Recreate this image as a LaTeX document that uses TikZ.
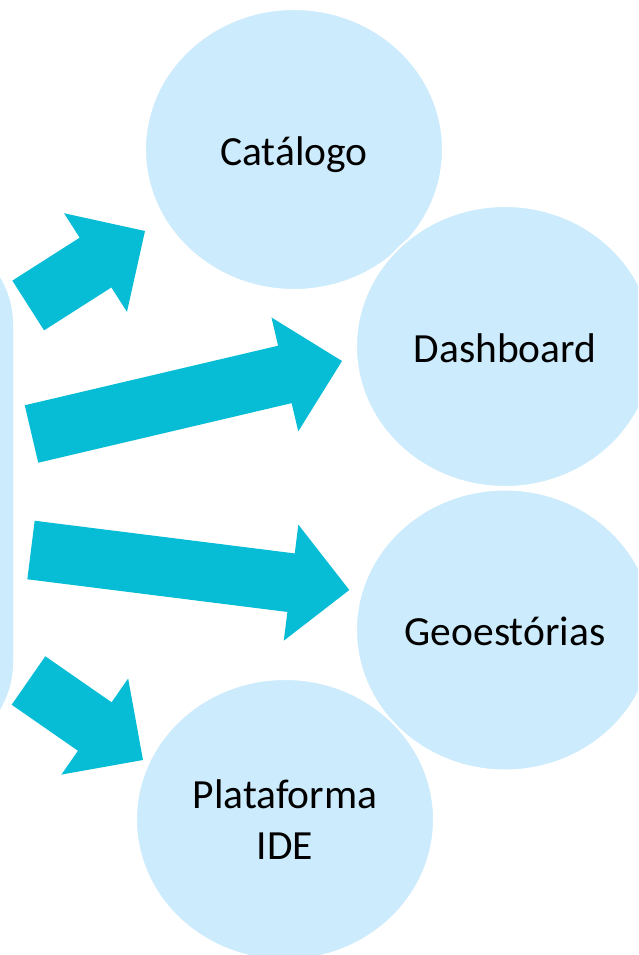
\documentclass[tikz,border=0pt]{standalone}
\usepackage{fontspec}
\setmainfont{Carlito}
\usetikzlibrary{shapes.geometric,calc}
\definecolor{bubblefill}{HTML}{CCEBFC}
\definecolor{arrowcyan}{HTML}{07BDD6}
\tikzset{
	bubble/.style={ellipse,fill=bubblefill,draw=white,line width=2pt,minimum width=298pt,minimum height=281pt,inner sep=0pt,font=\fontsize{41.5}{51}\selectfont,align=center},
	oneline/.style={text height=31pt,text depth=0pt},
	hub/.style={rectangle,rounded corners=90pt,fill=bubblefill,minimum width=213pt,minimum height=519pt,inner sep=0pt},
	bigarrow/.style={fill=arrowcyan}
}
\newcommand{\blockarrow}[2]{%
	\coordinate (#1h) at ($(#2)!58.7pt!(#1)$);
	\fill[bigarrow] ($(#1)!29.5pt!90:(#2)$) -- ($(#1h)!29.5pt!90:(#2)$) -- ($(#1h)!58.5pt!90:(#2)$) -- (#2)
		-- ($(#1h)!58.5pt!-90:(#2)$) -- ($(#1h)!29.5pt!-90:(#2)$) -- ($(#1)!29.5pt!-90:(#2)$) -- cycle;}
\begin{document}
\begin{tikzpicture}[x=1pt,y=-1pt]
		\useasboundingbox (0,0) rectangle (638,955);
		\clip (0,0) rectangle (638,955);
		\node[hub] (hub) at (-93.5,493.5) {};

		\coordinate (t1) at (28.2,305.5);
		\coordinate (p1) at (145,231);
		\coordinate (t2) at (31.5,434);
		\coordinate (p2) at (342,361);
		\coordinate (t3) at (31,550);
		\coordinate (p3) at (349.3,590);
		\coordinate (t4) at (28.5,680.5);
		\coordinate (p4) at (143,760);
		\blockarrow{t1}{p1}
		\blockarrow{t2}{p2}
		\blockarrow{t3}{p3}
		\blockarrow{t4}{p4}

		\node[bubble,oneline] (catalogo) at (294,149.5) {Catálogo};
		\node[bubble,oneline] (dashboard) at (505,346.5) {Dashboard};
		\node[bubble,oneline] (geo) at (505,630) {Geoestórias};
		\node[bubble] (ide) at (285,819.5) {Plataforma\\IDE};
		\end{tikzpicture}
\end{document}
